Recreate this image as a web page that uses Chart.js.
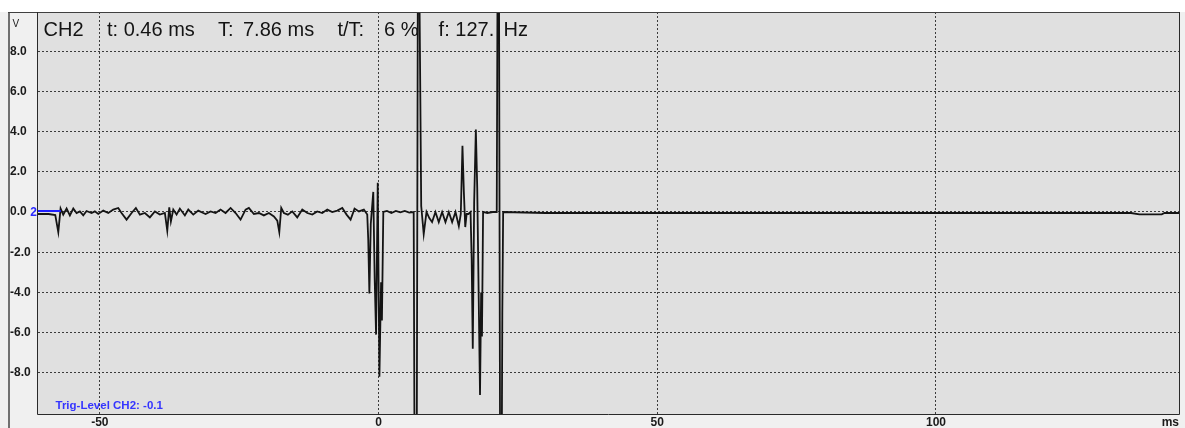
<!DOCTYPE html>
<html><head><meta charset="utf-8">
<script src="https://cdn.jsdelivr.net/npm/chart.js@4.4.1/dist/chart.umd.min.js"></script>
<style>html,body{margin:0;padding:0;background:#f0f0f0;overflow:hidden}canvas{display:block}</style>
</head><body>
<canvas id="c" width="1185" height="428"></canvas>
<script>
// ---- data (time in ms, voltage in V) ----
const timeMs = [
 -61.1,-59.2,-58.0,-57.46,-57.05,-56.57,-55.97,-55.38,-54.77,-54.18,-53.59,-52.98,-52.39,-51.49,-50.9,-50.29,
 -49.39,-48.49,-47.6,-46.7,-46.11,-45.21,-44.31,-43.54,-42.82,-41.93,-41.03,-40.13,-39.24,-38.34,-37.91,-37.55,
 -37.26,-36.83,-36.24,-35.65,-34.75,-34.14,-33.24,-32.35,-31.45,-31.04,-30.14,-29.24,-28.35,-27.45,-26.55,-25.65,
 -24.76,-23.86,-23.27,-22.37,-21.47,-20.58,-19.68,-18.78,-18.17,-17.81,-17.46,-16.99,-16.27,-15.48,-14.59,-13.69,
 -12.79,-11.89,-11.0,-10.1,-9.2,-8.31,-7.41,-6.51,-5.74,-5.02,-4.31,-3.53,-2.64,-2.03,
 -1.85,-1.65,-1.4,-0.95,-0.7,-0.45,-0.15,0.15,0.45,0.6,0.85,1.5,2.3,3.1,3.9,4.7,5.5,6.3,
 6.45,6.85,7.05,7.3,7.5,7.65,8.1,8.6,9.1,9.6,10.2,10.8,11.4,12.0,12.6,13.2,13.8,14.4,14.75,
 15.05,15.3,15.55,15.8,16.1,16.5,16.7,16.9,17.15,17.45,17.7,18.2,18.4,18.55,18.75,19.5,20.5,21.2,
 21.35,21.6,21.8,22.1,22.2,22.35,30,60,90,120,135,136.5,140.5,141,143.6
];
const voltsCh2 = [
 -0.1,-0.1,-0.15,-1.0,0.17,-0.13,0.17,-0.17,0.17,-0.05,0.03,-0.17,0.05,-0.05,0.03,-0.1,
 0.07,-0.05,0.12,0.2,-0.05,-0.38,-0.05,0.2,-0.13,-0.05,-0.27,0.03,-0.13,-0.05,-0.93,0.23,
 -0.47,0.12,-0.13,0.17,-0.17,0.12,-0.13,0.07,-0.05,-0.1,0.03,-0.05,0.12,-0.05,0.2,-0.05,
 -0.38,0.12,0.2,-0.1,-0.05,-0.17,-0.05,-0.22,-0.43,-1.0,0.2,-0.05,-0.13,0.03,-0.27,0.12,
 -0.05,-0.13,0.03,-0.05,0.12,0.0,0.07,0.2,-0.13,-0.38,0.17,0.03,0.12,-0.13,
 -1.4,-4.05,-0.6,1.0,-3.3,-6.1,1.45,-8.2,-3.5,-5.4,0.0,0.05,-0.05,0.05,-0.02,0.05,-0.03,0.0,
 -12,-12,12,12,5.4,0.3,-1.1,0.0,-0.3,-0.5,0.0,-0.5,0.0,-0.5,0.0,-0.5,0.0,-0.7,-0.1,
 3.3,1.0,-0.75,-0.1,-0.1,0.0,-2.3,-6.8,0.5,4.1,1.2,-9.1,-4.0,-6.2,0.0,-0.05,0.0,0.0,
 12,12,-12,-12,-5.0,0.0,-0.05,-0.05,-0.05,-0.05,-0.05,-0.12,-0.12,-0.05,-0.05
];
const trigMarkerMs = [-61.1, -57.0];
const trigMarkerV = [0.05, 0.05];
const xTickValues = [-50, 0, 50, 100];
const yTickValues = [-8, -6, -4, -2, 0, 2, 4, 6, 8];
const headerParts = ["CH2", "t: 0.46 ms", "T:", "7.86 ms", "t/T:", "6 %", "f: 127.", "Hz"];
const trigLabel = "Trig-Level CH2: -0.1";
const yUnit = "V";
const xUnit = "ms";
const channelMark = "2";

const FONT = "'Liberation Sans', Arial, sans-serif";
const headerX = [43.6, 107, 218, 243, 337.5, 384, 438.6, 503.6];

const scopePlugin = {
  id: 'scope',
  beforeDraw(chart) {
    const ctx = chart.ctx, a = chart.chartArea;
    ctx.save();
    ctx.fillStyle = '#f0f0f0';
    ctx.fillRect(0, 0, chart.width, chart.height);
    ctx.fillStyle = '#ffffff';
    ctx.fillRect(0, 0, chart.width, 12);
    ctx.fillStyle = '#e0e0e0';
    ctx.fillRect(a.left, a.top, a.right - a.left, a.bottom - a.top);
    ctx.restore();
  },
  beforeDatasetsDraw(chart) {
    const ctx = chart.ctx;
    ctx.save();
    ctx.fillStyle = '#141414';
    ctx.font = '20px ' + FONT;
    ctx.textBaseline = 'alphabetic';
    ctx.textAlign = 'left';
    headerParts.forEach((t, i) => ctx.fillText(t, headerX[i], 35.5));
    ctx.fillStyle = '#3535ff';
    ctx.font = 'bold 11.5px ' + FONT;
    ctx.fillText(trigLabel, 55.5, 409);
    ctx.restore();
  },
  afterDraw(chart) {
    const ctx = chart.ctx, a = chart.chartArea;
    ctx.save();
    ctx.fillStyle = '#707070';
    ctx.fillRect(8, 12, 2, chart.height - 12);
    ctx.fillStyle = '#404040';
    ctx.fillRect(8, 12, a.right - 8, 1);
    ctx.strokeStyle = '#2a2a2a';
    ctx.lineWidth = 1;
    ctx.beginPath();
    ctx.moveTo(a.left - 0.5, a.top);
    ctx.lineTo(a.left - 0.5, a.bottom + 0.5);
    ctx.lineTo(a.right + 0.5, a.bottom + 0.5);
    ctx.lineTo(a.right + 0.5, a.top);
    ctx.stroke();
    ctx.fillStyle = '#1a1a1a';
    ctx.font = '10px ' + FONT;
    ctx.textAlign = 'left';
    ctx.textBaseline = 'alphabetic';
    ctx.fillText(yUnit, 12.5, 26.5);
    ctx.font = 'bold 12px ' + FONT;
    ctx.textAlign = 'right';
    ctx.textBaseline = 'middle';
    ctx.fillText(xUnit, 1179, 422.5);
    const y0 = chart.scales.y.getPixelForValue(0);
    ctx.fillStyle = '#2a2aff';
    ctx.textAlign = 'right';
    ctx.fillText(channelMark, 37, y0 + 0.5);
    ctx.restore();
  }
};

new Chart(document.getElementById('c'), {
  type: 'line',
  data: {
    datasets: [
      {
        data: trigMarkerMs.map((t, i) => ({x: t, y: trigMarkerV[i]})),
        borderColor: '#1e1eff', borderWidth: 2, pointRadius: 0, tension: 0, clip: 0
      },
      {
        data: timeMs.map((t, i) => ({x: t, y: voltsCh2[i]})),
        borderColor: '#141414', borderWidth: 1.8, pointRadius: 0, tension: 0, clip: 0
      }
    ]
  },
  options: {
    responsive: false,
    animation: false,
    events: [],
    layout: {padding: {left: 10, top: 12, right: 6, bottom: 0}},
    plugins: {legend: {display: false}, tooltip: {enabled: false}, title: {display: false}},
    scales: {
      x: {
        type: 'linear', position: 'bottom', min: -61.1, max: 143.6,
        afterBuildTicks: s => { s.ticks = xTickValues.map(v => ({value: v})); },
        afterFit: s => { s.height = 14; },
        grid: {color: 'rgba(30,30,30,0.85)', lineWidth: 1, drawTicks: false},
        border: {display: false, dash: [2, 2]},
        ticks: {
          padding: 1, autoSkip: false, maxRotation: 0, color: '#1a1a1a',
          font: {family: FONT, size: 12, weight: 'bold'},
          callback: v => String(v)
        }
      },
      y: {
        type: 'linear', position: 'left', min: -10.05, max: 9.95,
        afterBuildTicks: s => { s.ticks = yTickValues.map(v => ({value: v})); },
        afterFit: s => { s.width = 28; },
        grid: {color: 'rgba(30,30,30,0.85)', lineWidth: 1, drawTicks: false},
        border: {display: false, dash: [2, 2]},
        ticks: {
          padding: 0, crossAlign: 'far', color: '#1a1a1a',
          font: {family: FONT, size: 12, weight: 'bold'},
          callback: v => Number(v).toFixed(1)
        }
      }
    }
  },
  plugins: [scopePlugin]
});
</script>
</body></html>
